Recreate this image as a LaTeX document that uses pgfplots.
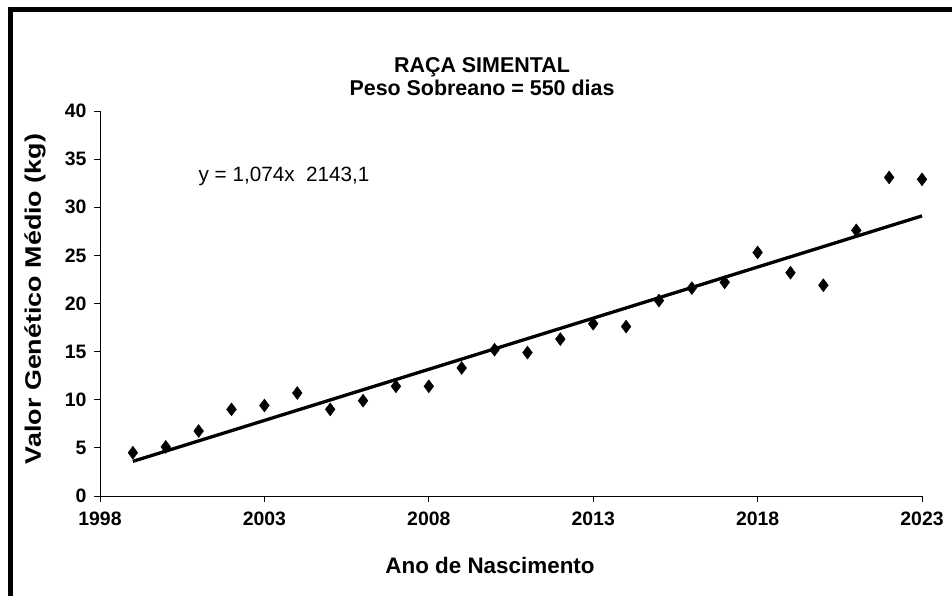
\documentclass[border=0pt]{standalone}
\usepackage{pgfplots}
\pgfplotsset{compat=1.18}
\usepackage{fontspec}
\setmainfont{Liberation Sans}
\begin{document}
\begin{tikzpicture}[x=1bp,y=1bp]
\useasboundingbox (0,0) rectangle (952,596);
\fill[white] (0,0) rectangle (952,596);
\draw[line width=4.5bp] (10.5,0) -- (10.5,586.5) -- (952,586.5);
\begin{axis}[
  at={(100bp,100bp)}, anchor=south west,
  scale only axis, width=822bp, height=385bp,
  xmin=1998, xmax=2023, ymin=0, ymax=40,
  xtick={1998,2003,2008,2013,2018,2023},
  ytick={0,5,10,15,20,25,30,35,40},
  axis lines=left, axis line style={-, line width=0.9bp},
  tick align=outside, major tick length=6bp,
  tick style={line width=0.9bp, black},
  /pgf/number format/assume math mode=true,
  /pgf/number format/1000 sep={},
  scaled ticks=false,
  ticklabel style={font=\bfseries\fontsize{19.5}{19.5}\selectfont},
  xticklabel style={yshift=-6bp},
  yticklabel style={xshift=-4bp},
  clip=false,
]
\addplot[only marks, mark=diamond*, mark size=6.5bp, black] coordinates {
(1999,4.5) (2000,5.1) (2001,6.75) (2002,9.0) (2003,9.4) (2004,10.7)
(2005,9.0) (2006,9.9) (2007,11.4) (2008,11.4) (2009,13.3) (2010,15.2)
(2011,14.9) (2012,16.3) (2013,17.9) (2014,17.6) (2015,20.3) (2016,21.6)
(2017,22.2) (2018,25.3) (2019,23.2) (2020,21.9) (2021,27.6) (2022,33.1)
(2023,32.9)
};
\addplot[black, line width=3.3bp, no marks] coordinates {(1999,3.6) (2023,29.1)};
\end{axis}
\node[font=\bfseries\fontsize{21.5}{23}\selectfont, align=center] at (482,519) {RAÇA SIMENTAL\\Peso Sobreano = 550 dias};
\node[font=\bfseries\fontsize{22.5}{22.5}\selectfont] at (490,31) {Ano de Nascimento};
\node[font=\bfseries\fontsize{22.5}{22.5}\selectfont, rotate=90] at (35,297) {\scalebox{1.2}[1]{Valor Genético Médio (kg)}};
\node[font=\fontsize{20.75}{20.75}\selectfont] at (284,420) {y = 1,074x\ \ 2143,1};
\end{tikzpicture}
\end{document}
